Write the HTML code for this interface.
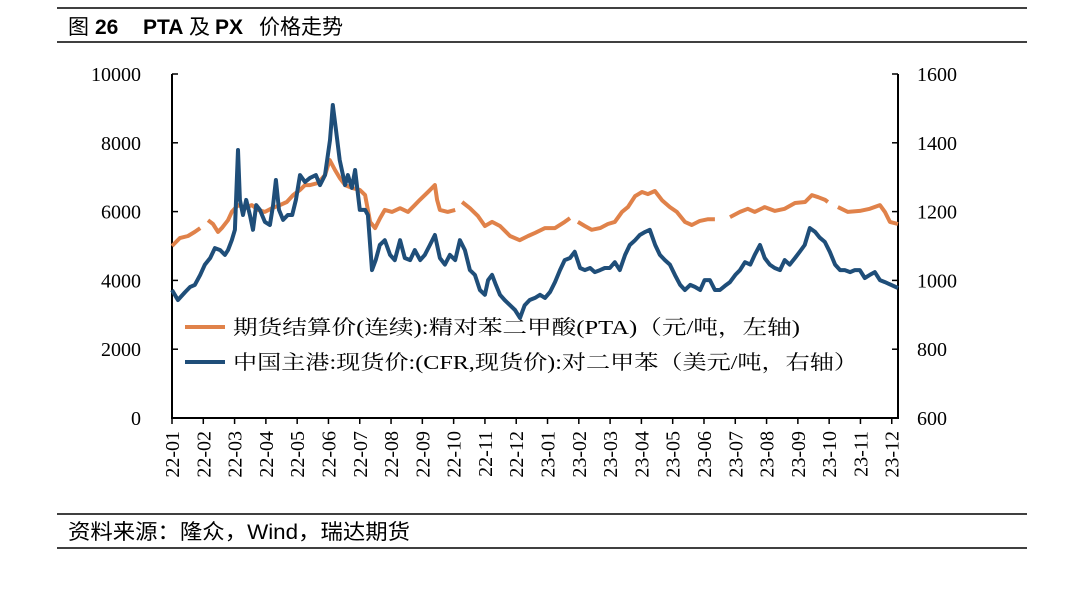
<!DOCTYPE html>
<html><head><meta charset="utf-8">
<style>
html,body{margin:0;padding:0;background:#fff;}
svg{display:block;}
</style></head>
<body>
<svg id="chart" width="1080" height="592" viewBox="0 0 1080 592" xmlns="http://www.w3.org/2000/svg">
  <line x1="57" y1="8" x2="1027" y2="8" stroke="#000" stroke-width="1.5"/>
  <line x1="57" y1="42" x2="1027" y2="42" stroke="#000" stroke-width="1.5"/>
  <text y="34" font-size="21" font-family="'Liberation Sans','Noto Sans CJK SC',sans-serif"><tspan x="68">图</tspan><tspan x="95" font-weight="bold">26</tspan><tspan x="143" font-weight="bold">PTA</tspan><tspan x="189">及</tspan><tspan x="215" font-weight="bold">PX</tspan><tspan x="259">价格走势</tspan></text>
  <line x1="57" y1="514" x2="1027" y2="514" stroke="#000" stroke-width="1.5"/>
  <line x1="57" y1="548" x2="1027" y2="548" stroke="#000" stroke-width="1.5"/>
  <text x="68" y="539" font-size="21" textLength="342" lengthAdjust="spacingAndGlyphs" font-family="'Liberation Sans','Noto Sans CJK SC',sans-serif">资料来源：隆众，Wind，瑞达期货</text>
  <g id="axes"></g>
  <g id="series"></g>
  <g id="legend">
    <line x1="185" y1="327" x2="225" y2="327" stroke="#E0824A" stroke-width="4"/>
    <text x="233" y="334" font-size="20" textLength="567" lengthAdjust="spacingAndGlyphs" font-family="'Liberation Serif','Noto Serif CJK SC',serif">期货结算价(连续):精对苯二甲酸(PTA)（元/吨，左轴)</text>
    <line x1="185" y1="362" x2="225" y2="362" stroke="#1F4E79" stroke-width="4"/>
    <text x="233" y="369" font-size="20" textLength="625" lengthAdjust="spacingAndGlyphs" font-family="'Liberation Serif','Noto Serif CJK SC',serif">中国主港:现货价:(CFR,现货价):对二甲苯（美元/吨，右轴）</text>
  </g>
</svg>
<script>
const monthLabels = ["22-01","22-02","22-03","22-04","22-05","22-06","22-07","22-08","22-09","22-10","22-11","22-12","23-01","23-02","23-03","23-04","23-05","23-06","23-07","23-08","23-09","23-10","23-11","23-12"];
const leftTicks = [0,2000,4000,6000,8000,10000];
const rightTicks = [600,800,1000,1200,1400,1600];
const ptaTime = [0,.25,.51,.73,.90,1.0,
1.15,1.31,1.47,1.59,1.79,1.91,2.11,2.33,2.55,2.75,2.97,3.20,3.45,3.67,3.87,4.09,4.25,4.41,4.67,4.89,5.04,5.21,5.36,5.53,5.75,6.00,6.17,6.33,6.49,6.65,6.80,7.03,7.29,7.54,7.76,7.92,8.18,8.40,8.47,8.56,8.81,9.05,9.15,
9.27,9.52,9.78,10.00,10.23,10.48,10.80,11.11,11.38,11.60,11.92,12.24,12.55,12.72,12.85,
12.97,13.19,13.41,13.68,13.93,14.15,14.38,14.57,14.80,15.02,15.21,15.43,15.66,15.91,16.13,16.39,16.61,16.87,17.13,17.35,17.6,
17.83,18.15,18.40,18.62,18.94,19.26,19.58,19.91,20.23,20.45,20.65,20.87,20.96,21.1,
21.28,21.60,21.98,22.30,22.62,22.78,22.94,23.20];
const ptaValues = [5000,5230,5290,5410,5520,null,
5750,5640,5410,5520,5750,5990,6190,6100,6190,6050,5990,6100,6190,6280,6480,6630,6770,6770,6830,7060,7500,7210,6980,6770,6690,6630,6480,5700,5520,5810,6050,5990,6100,5990,6190,6340,6570,6770,6340,6050,5990,6050,null,
6280,6100,5870,5580,5700,5580,5290,5170,5290,5380,5520,5520,5700,5810,null,
5700,5580,5470,5520,5640,5700,5990,6130,6450,6570,6510,6600,6330,6130,5990,5700,5610,5730,5780,5780,null,
5840,5990,6080,5990,6130,6020,6080,6250,6280,6480,6420,6340,6280,null,
6130,5990,6020,6080,6190,5990,5700,5640];
const pxTime = [0,.19,.42,.58,.73,.90,1.05,1.22,1.37,1.54,
1.69,1.79,1.91,2.01,2.11,2.17,2.27,2.37,2.49,2.59,
2.69,2.81,2.97,3.13,3.23,3.32,3.42,3.55,3.70,3.84,
3.96,4.09,4.25,4.41,4.60,4.73,4.89,5.05,5.14,5.24,
5.36,5.53,5.62,5.75,5.85,6.00,6.17,6.26,6.39,6.51,
6.64,6.80,6.97,7.12,7.29,7.44,7.61,7.76,7.93,8.08,
8.24,8.40,8.56,8.72,8.88,9.05,9.20,9.36,9.52,9.68,
9.84,10.00,10.10,10.23,10.35,10.48,10.63,10.80,10.96,11.12,
11.27,11.43,11.60,11.76,11.92,12.08,12.24,12.40,12.55,12.72,
12.87,13.04,13.19,13.36,13.51,13.68,13.83,13.99,14.15,14.31,
14.48,14.63,14.80,14.95,15.12,15.27,15.44,15.59,15.75,15.91,
16.07,16.24,16.39,16.56,16.71,16.88,17.02,17.19,17.35,17.51,
17.67,17.83,18.00,18.15,18.31,18.48,18.62,18.79,18.94,19.10,
19.26,19.43,19.58,19.74,19.91,20.06,20.22,20.38,20.55,20.70,
20.86,21.02,21.19,21.35,21.50,21.67,21.82,21.98,22.14,22.30,
22.46,22.62,22.78,23.20];
const pxValues = [972,943,966,981,987,1016,1046,1065,1094,1088,
1074,1088,1117,1147,1379,1234,1190,1234,1190,1147,
1219,1205,1170,1161,1219,1292,1205,1176,1190,1190,
1234,1306,1286,1298,1306,1277,1306,1408,1510,1437,
1350,1277,1306,1269,1321,1205,1205,1190,1030,1059,
1103,1117,1074,1059,1117,1065,1059,1088,1059,1074,
1103,1132,1065,1046,1074,1059,1117,1088,1030,1016,
972,958,1001,1016,987,958,943,928,914,891,
928,943,949,958,949,966,995,1030,1059,1065,
1083,1036,1030,1036,1024,1030,1036,1036,1053,1030,
1074,1103,1117,1132,1141,1147,1103,1074,1059,1046,
1016,987,972,987,981,972,1001,1001,972,972,
984,995,1016,1030,1053,1046,1074,1103,1065,1046,
1036,1030,1059,1046,1065,1083,1103,1152,1141,1124,
1112,1083,1046,1030,1030,1024,1030,1030,1007,1016,
1024,1001,995,978];

const NS = "http://www.w3.org/2000/svg";
const X0 = 172, X1 = 898, Y0 = 418, Y1 = 74, TMAX = 23.2;
function xScale(t){ return X0 + t/TMAX*(X1-X0); }
function yLeft(v){ return Y0 - v/10000*(Y0-Y1); }
function yRight(v){ return Y0 - (v-600)/1000*(Y0-Y1); }
function mk(tag, attrs, parent){ const e=document.createElementNS(NS,tag); for(const k in attrs) e.setAttribute(k,attrs[k]); parent.appendChild(e); return e; }

const axes = document.getElementById('axes');
const serif = "'Liberation Serif','Noto Serif CJK SC',serif";
const frame = mk('path',{d:`M${X0},${Y1} V${Y0} H${X1} V${Y1}`,fill:'none',stroke:'#000','stroke-width':2},axes);


leftTicks.forEach(v=>{
  const y=yLeft(v);
  const tk=mk('line',{x1:X0,y1:y,x2:X0+6,y2:y,stroke:'#000','stroke-width':1.5},axes);
  
  
  const t=mk('text',{x:141,y:y+7,'text-anchor':'end','font-size':20,'font-family':serif},axes);
  t.textContent=v;
  
  
});
rightTicks.forEach(v=>{
  const y=yRight(v);
  const tk=mk('line',{x1:X1-6,y1:y,x2:X1,y2:y,stroke:'#000','stroke-width':1.5},axes);
  
  
  const t=mk('text',{x:917,y:y+7,'text-anchor':'start','font-size':20,'font-family':serif},axes);
  t.textContent=v;
  
  
});
monthLabels.forEach((m,i)=>{
  const x=xScale(i);
  const tk=mk('line',{x1:x,y1:Y0,x2:x,y2:Y0+6,stroke:'#000','stroke-width':1.5},axes);
  
  
  const t=mk('text',{x:0,y:0,'text-anchor':'end','font-size':20,'font-family':serif,transform:`translate(${x+7},431) rotate(-90)`},axes);
  t.textContent=m;
  
  
});

const series = document.getElementById('series');
function pathFor(times, vals, ys){
  let d='', pen=false;
  for(let i=0;i<times.length;i++){
    if(vals[i]===null){ pen=false; continue; }
    d += (pen?'L':'M') + xScale(times[i]).toFixed(1) + ',' + ys(vals[i]).toFixed(1) + ' ';
    pen=true;
  }
  return d;
}
const pta = mk('path',{d:pathFor(ptaTime,ptaValues,yLeft),fill:'none',stroke:'#E0824A','stroke-width':4,'stroke-linejoin':'round'},series);


const px = mk('path',{d:pathFor(pxTime,pxValues,yRight),fill:'none',stroke:'#1F4E79','stroke-width':4,'stroke-linejoin':'round'},series);


</script>
</body></html>
